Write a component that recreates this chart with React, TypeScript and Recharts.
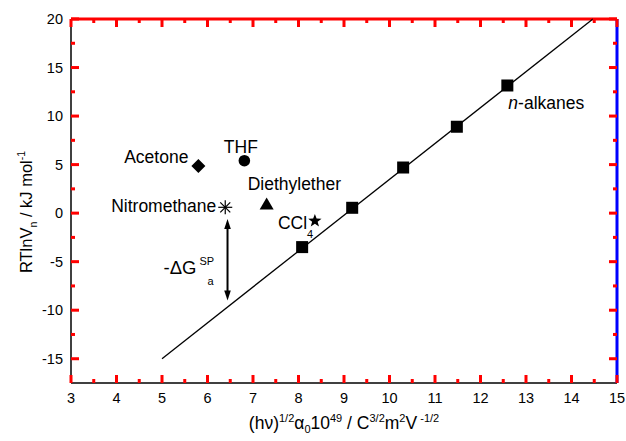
import React from 'react'
import { ScatterChart, Scatter, XAxis, YAxis, ReferenceLine, Label } from 'recharts'

const FONT = '"Liberation Sans", Arial, sans-serif'

// axis ticks (integers are labelled, halves are minor ticks)
const xTicks = [3, 3.5, 4, 4.5, 5, 5.5, 6, 6.5, 7, 7.5, 8, 8.5, 9, 9.5, 10, 10.5, 11, 11.5, 12, 12.5, 13, 13.5, 14, 14.5, 15]
const yTicks = [-15, -12.5, -10, -7.5, -5, -2.5, 0, 2.5, 5, 7.5, 10, 12.5, 15, 17.5, 20]
const yMajor = [-15, -10, -5, 0, 5, 10, 15, 20]
const xDomain = [3, 15]
const yDomain = [-17.5, 20]

// n-alkanes and their fit line
const alkaneX = [8.08, 9.18, 10.3, 11.48, 12.59]
const alkaneY = [-3.5, 0.55, 4.7, 8.9, 13.15]
const fitX = [5, 14.47]
const fitY = [-15, 20]

// polar probes
const probeNames = ['Acetone', 'THF', 'Diethylether', 'Nitromethane', 'CCl4']
const probeX = [5.8, 6.81, 7.3, 6.39, 8.36]
const probeY = [4.85, 5.4, 0.9, 0.6, -0.8]

// the -dG arrow below nitromethane
const arrowX = 6.44
const arrowTop = -0.6
const arrowBottom = -9.0

const alkanes = alkaneX.map((x, i) => ({ x, y: alkaneY[i], label: i === alkaneX.length - 1 ? 'n-alkanes' : '' }))
const fit = fitX.map((x, i) => ({ x, y: fitY[i] }))
const probes = probeNames.map((label, i) => ({ x: probeX[i], y: probeY[i], label }))

const tickMarks = [
  ...xTicks.map((t) => ({ x: t, y: yDomain[0], side: 'b', major: Number.isInteger(t) })),
  ...xTicks.map((t) => ({ x: t, y: yDomain[1], side: 't', major: Number.isInteger(t) })),
  ...yTicks.map((t) => ({ x: xDomain[0], y: t, side: 'l', major: yMajor.includes(t) })),
  ...yTicks.map((t) => ({ x: xDomain[1], y: t, side: 'r', major: yMajor.includes(t) })),
]

const txt = { fontFamily: FONT, fill: '#000' }
const dirs: Record<string, number[]> = { b: [0, -1], t: [0, 1], l: [1, 0], r: [-1, 0] }

function TickMark(props: any) {
  const { cx, cy } = props
  const side = props.side ?? props.payload?.side
  const major = props.major ?? props.payload?.major
  const len = major ? 8 : 4
  const [dx, dy] = dirs[side] || [0, 0]
  return <rect x={Math.min(cx, cx + dx * len) - (dx ? 0 : 1.5)} y={Math.min(cy, cy + dy * len) - (dy ? 0 : 1.5)} width={dx ? len : 3} height={dy ? len : 3} fill="red" />
}

function BottomTick({ x, y, payload }: any) {
  const v = payload.value
  if (!Number.isInteger(v)) return <g />
  return (
    <text x={x} y={y + 20} textAnchor="middle" fontSize={14.5} {...txt}>
      {v}
    </text>
  )
}

function LeftTick({ x, y, payload }: any) {
  const v = payload.value
  if (!yMajor.includes(v)) return <g />
  return (
    <text x={x - 8} y={y + 5} textAnchor="end" fontSize={14.5} {...txt}>
      {v}
    </text>
  )
}

function AlkaneShape({ cx, cy, payload }: any) {
  return (
    <g>
      <rect x={cx - 6} y={cy - 6} width={12} height={12} fill="#000" />
      {payload.label && (
        <text x={cx + 1} y={cy + 24} fontSize={17.5} {...txt}>
          <tspan fontStyle="italic">n</tspan>-alkanes
        </text>
      )}
    </g>
  )
}

function starPoints(cx: number, cy: number, ro: number, ri: number) {
  const pts: string[] = []
  for (let k = 0; k < 10; k++) {
    const r = k % 2 === 0 ? ro : ri
    const a = -Math.PI / 2 + (k * Math.PI) / 5
    pts.push(`${cx + r * Math.cos(a)},${cy + r * Math.sin(a)}`)
  }
  return pts.join(' ')
}

function ProbeShape({ cx, cy, payload }: any) {
  const name = payload.label
  if (name === 'Acetone')
    return (
      <g>
        <polygon points={`${cx},${cy - 7} ${cx + 7},${cy} ${cx},${cy + 7} ${cx - 7},${cy}`} fill="#000" />
        <text x={cx - 10} y={cy - 3.5} textAnchor="end" fontSize={17.5} {...txt}>Acetone</text>
      </g>
    )
  if (name === 'THF')
    return (
      <g>
        <circle cx={cx} cy={cy} r={5.8} fill="#000" />
        <text x={cx - 3.5} y={cy - 8} textAnchor="middle" fontSize={17.5} {...txt}>THF</text>
      </g>
    )
  if (name === 'Diethylether')
    return (
      <g>
        <polygon points={`${cx},${cy - 7} ${cx + 7},${cy + 5} ${cx - 7},${cy + 5}`} fill="#000" />
        <text x={cx - 19} y={cy - 14} fontSize={17.5} {...txt}>Diethylether</text>
      </g>
    )
  if (name === 'Nitromethane')
    return (
      <g>
        <g stroke="#000" strokeWidth={1.2}>
          <line x1={cx - 7} x2={cx + 7} y1={cy} y2={cy} />
          <line x1={cx} x2={cx} y1={cy - 7} y2={cy + 7} />
          <line x1={cx - 5} x2={cx + 5} y1={cy - 5} y2={cy + 5} />
          <line x1={cx - 5} x2={cx + 5} y1={cy + 5} y2={cy - 5} />
        </g>
        <text x={cx - 9} y={cy + 5} textAnchor="end" fontSize={17.5} {...txt}>Nitromethane</text>
      </g>
    )
  return (
    <g>
      <polygon points={starPoints(cx, cy, 7, 2.9)} fill="#000" />
      <text x={cx - 37} y={cy + 8.5} fontSize={17.5} {...txt}>
        CCl<tspan fontSize={11} dy={9}>4</tspan>
      </text>
    </g>
  )
}

function ArrowShape({ x1, y1, x2, y2 }: any) {
  const top = Math.min(y1, y2)
  const bot = Math.max(y1, y2)
  const x = x1
  return (
    <g>
      <line x1={x} x2={x} y1={top + 6} y2={bot - 6} stroke="#000" strokeWidth={2} />
      <polygon points={`${x},${top} ${x + 3.3},${top + 10} ${x - 3.3},${top + 10}`} fill="#000" />
      <polygon points={`${x},${bot} ${x + 3.3},${bot - 10} ${x - 3.3},${bot - 10}`} fill="#000" />
      <text x={x - 64} y={top + 55} fontSize={18.5} {...txt}>-ΔG</text>
      <text x={x - 28} y={top + 46} fontSize={11} {...txt}>SP</text>
      <text x={x - 20} y={top + 66} fontSize={11} {...txt}>a</text>
    </g>
  )
}

function XTitle({ viewBox }: any) {
  const cx = viewBox.x + viewBox.width / 2
  const y = viewBox.y + 46
  return (
    <text x={cx} y={y} textAnchor="middle" fontSize={17.5} {...txt}>
      (hν)<tspan fontSize={11} dy={-7}>1/2</tspan>
      <tspan dy={7}>α</tspan>
      <tspan fontSize={11} dy={4}>0</tspan>
      <tspan dy={-4}>10</tspan>
      <tspan fontSize={11} dy={-7}>49</tspan>
      <tspan dy={7}> / C</tspan>
      <tspan fontSize={11} dy={-7}>3/2</tspan>
      <tspan dy={7}>m</tspan>
      <tspan fontSize={11} dy={-7}>2</tspan>
      <tspan dy={7}>V</tspan>
      <tspan fontSize={11} dy={-7}> -1/2</tspan>
    </text>
  )
}

function YTitle() {
  return (
    <text transform="translate(31.5,212) rotate(-90)" x={0} y={0} textAnchor="middle" fontSize={16.5} {...txt}>
      RTlnV<tspan fontSize={10.5} dy={5}>n</tspan>
      <tspan dy={-5}> / kJ mol</tspan>
      <tspan fontSize={10.5} dy={-7}>-1</tspan>
    </text>
  )
}

const noShape = () => <g />

export default function App() {
  return (
    <div style={{ position: 'absolute', left: 0, top: 0 }}>
      <ScatterChart width={626} height={441} margin={{ top: 18, right: 8, bottom: 0, left: 0 }}>
        <XAxis xAxisId="b" dataKey="x" type="number" domain={xDomain} ticks={xTicks} interval={0} height={58} tickSize={0} tickMargin={0} tick={BottomTick} stroke="#000" strokeWidth={1.5}>
          <Label content={XTitle} />
        </XAxis>
        <XAxis xAxisId="t" orientation="top" type="number" domain={xDomain} height={1} tick={false} tickLine={false} stroke="red" strokeWidth={3} />
        <YAxis yAxisId="l" dataKey="y" type="number" domain={yDomain} ticks={yTicks} interval={0} width={71} tickSize={0} tickMargin={0} tick={LeftTick} stroke="#000" strokeWidth={1.5}>
          <Label content={YTitle} />
        </YAxis>
        <YAxis yAxisId="r" orientation="right" type="number" domain={yDomain} width={1} tick={false} tickLine={false} stroke="blue" strokeWidth={3} />

        <Scatter xAxisId="b" yAxisId="l" data={fit} line={{ stroke: '#000', strokeWidth: 1.3 }} shape={noShape} isAnimationActive={false} />
        <Scatter xAxisId="b" yAxisId="l" data={alkanes} shape={AlkaneShape} isAnimationActive={false} />
        <Scatter xAxisId="b" yAxisId="l" data={probes} shape={ProbeShape} isAnimationActive={false} />
        <Scatter xAxisId="b" yAxisId="l" data={tickMarks} shape={TickMark} isAnimationActive={false} />
        <ReferenceLine
          xAxisId="b"
          yAxisId="l"
          segment={[
            { x: arrowX, y: arrowTop },
            { x: arrowX, y: arrowBottom },
          ]}
          shape={ArrowShape}
          ifOverflow="visible"
        />
      </ScatterChart>
    </div>
  )
}
